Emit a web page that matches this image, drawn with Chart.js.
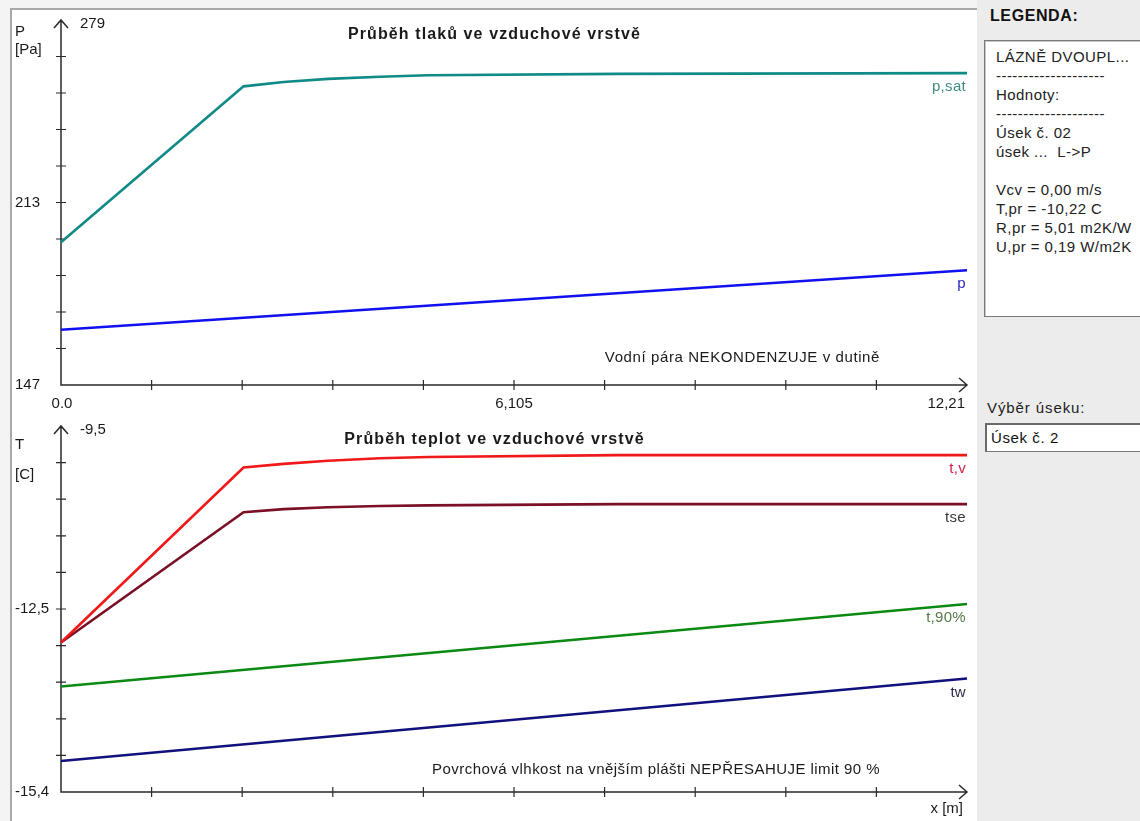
<!DOCTYPE html>
<html lang="cs">
<head>
<meta charset="utf-8">
<title>Průběh tlaků a teplot ve vzduchové vrstvě</title>
<script src="https://cdn.jsdelivr.net/npm/chart.js@4.4.1/dist/chart.umd.min.js"></script>
<style>
    html, body {
        margin: 0;
        padding: 0;
        width: 1140px;
        height: 821px;
        overflow: hidden;
        background: #f4f4f4;
        font-family: 'Liberation Sans', Arial, sans-serif;
    }
    .plot-area {
        position: absolute;
        left: 10px;
        top: 8px;
        width: 965px;
        height: 813px;
        background: #fff;
        border-left: 2px solid #a8a8a8;
        border-top: 2px solid #a8a8a8;
    }
    .side {
        position: absolute;
        left: 977px;
        top: 0;
        width: 163px;
        height: 821px;
        background: #ececec;
    }
    canvas { position: absolute; left: 0; }
    #pressure { top: 0; }
    #temperature { top: 400px; }
    .side h4 {
        position: absolute;
        left: 13px;
        top: 7px;
        margin: 0;
        font-size: 16px;
        letter-spacing: 0.6px;
        font-weight: bold;
        color: #111;
    }
    .legend-box {
        position: absolute;
        left: 7px;
        top: 40px;
        width: 190px;
        height: 277px;
        background: #fff;
        border: 1px solid #7a7a7a;
        box-shadow: inset 1px 1px 0 #c8c8c8;
        font-size: 15px;
        letter-spacing: 0.45px;
        line-height: 19px;
        color: #222;
        padding: 6px 0 0 11px;
        box-sizing: border-box;
        white-space: pre;
    }
    .pick-label {
        position: absolute;
        left: 10px;
        top: 399px;
        font-size: 15px;
        letter-spacing: 0.9px;
        color: #222;
    }
    .pick {
        position: absolute;
        left: 8px;
        top: 423px;
        width: 190px;
        height: 29px;
        background: #fff;
        border: 1px solid #7a7a7a;
        border-top: 2px solid #6a6a6a;
        border-left: 2px solid #6a6a6a;
        box-sizing: border-box;
        font-size: 15px;
        letter-spacing: 0.6px;
        color: #111;
        padding: 4px 0 0 4px;
    }
</style>
</head>
<body>
<div class="plot-area">
    <canvas id="pressure" width="965" height="400"></canvas>
    <canvas id="temperature" width="965" height="413"></canvas>
</div>
<div class="side">
    <h4>LEGENDA:</h4>
    <div class="legend-box">LÁZNĚ DVOUPL...
--------------------
Hodnoty:
--------------------
Úsek č. 02
úsek ...  L->P

Vcv = 0,00 m/s
T,pr = -10,22 C
R,pr = 5,01 m2K/W
U,pr = 0,19 W/m2K</div>
    <div class="pick-label">Výběr úseku:</div>
    <div class="pick">Úsek č. 2</div>
</div>

<script>
// rozsah osy x [m]
const xMax = 12.21;
const xTickLabels = ['0.0', '6,105', '12,21'];

// tlaky [Pa]
const pRange = [147, 279];
const pTickLabels = ['147', '213', '279'];
const satX = [0, 2.46, 3.0, 3.6, 4.3, 4.95, 7.5, 12.21];
const pSat = [198.6, 255.0, 256.6, 257.7, 258.5, 259.0, 259.5, 259.8];
const vapX = [0, 12.21];
const pVap = [167.0, 188.5];

// teploty [C]
const tRange = [-15.4, -9.5];
const tTickLabels = ['-15,4', '-12,5', '-9,5'];
const tempX = [0, 2.46, 3.0, 3.6, 4.3, 4.95, 7.5, 12.21];
const tV = [-12.99, -10.17, -10.11, -10.06, -10.02, -10.00, -9.97, -9.97];
const tSe = [-12.99, -10.89, -10.84, -10.81, -10.79, -10.78, -10.76, -10.76];
const linX = [0, 12.21];
const t90 = [-13.70, -12.37];
const tW = [-14.90, -13.57];

const FONT = "'Liberation Sans', Arial, sans-serif";

function pts(xs, ys) {
    return xs.map((x, i) => ({ x: x, y: ys[i] }));
}

function series(label, xs, ys, color, textColor) {
    return {
        label: label,
        data: pts(xs, ys),
        borderColor: color,
        textColor: textColor,
        borderWidth: 2.6,
        pointRadius: 0,
        tension: 0,
        clip: false
    };
}

// vlastni kresleni os se sipkami, popisky a textem
const axisFrame = {
    id: 'axisFrame',
    beforeDatasetsDraw(chart, args, opts) {
        const ctx = chart.ctx;
        const xs = chart.scales.x, ys = chart.scales.y;
        const left = xs.getPixelForValue(xs.min);
        const right = xs.getPixelForValue(xs.max);
        const top = ys.getPixelForValue(ys.max);
        const bottom = ys.getPixelForValue(ys.min);

        ctx.save();
        ctx.strokeStyle = '#2a2a2a';
        ctx.lineWidth = 1.5;
        ctx.beginPath();
        ctx.moveTo(left, top);
        ctx.lineTo(left, bottom);
        ctx.lineTo(right, bottom);
        // sipka nahoru
        ctx.moveTo(left - 7, top + 8);
        ctx.lineTo(left, top);
        ctx.lineTo(left + 7, top + 8);
        // sipka doprava
        ctx.moveTo(right - 8, bottom - 7);
        ctx.lineTo(right, bottom);
        ctx.lineTo(right - 8, bottom + 7);
        ctx.stroke();

        ctx.lineWidth = 1.2;
        ctx.beginPath();
        for (let i = 1; i < 10; i++) {
            const y = ys.getPixelForValue(ys.min + (ys.max - ys.min) * i / 10);
            ctx.moveTo(left - 5, y);
            ctx.lineTo(left + 5, y);
            const x = xs.getPixelForValue(xs.min + (xs.max - xs.min) * i / 10);
            ctx.moveTo(x, bottom - 5);
            ctx.lineTo(x, bottom + 5);
        }
        ctx.stroke();

        ctx.fillStyle = '#1a1a1a';
        ctx.font = '15px ' + FONT;
        ctx.textBaseline = 'middle';
        ctx.textAlign = 'left';
        const yl = opts.yLabels;
        ctx.fillText(yl[2], left + 19, top + 4);
        ctx.fillText(yl[1], 3, ys.getPixelForValue((ys.min + ys.max) / 2));
        ctx.fillText(yl[0], 3, bottom);
        ctx.fillText(opts.yName, 3, opts.yNameY);
        ctx.fillText(opts.yUnit, 3, opts.yUnitY);

        if (opts.xLabels) {
            const xl = opts.xLabels;
            ctx.textAlign = 'center';
            ctx.fillText(xl[0], left + 1, bottom + 19);
            ctx.fillText(xl[1], xs.getPixelForValue((xs.min + xs.max) / 2), bottom + 19);
            ctx.textAlign = 'right';
            ctx.fillText(xl[2], right - 2, bottom + 19);
        }
        if (opts.xName) {
            ctx.textAlign = 'right';
            ctx.fillText(opts.xName, right - 4, bottom + 17);
        }

        ctx.textAlign = 'right';
        ctx.letterSpacing = opts.noteSpacing;
        ctx.fillText(opts.note, right - 87, bottom - opts.noteGap);

        ctx.font = 'bold 16px ' + FONT;
        ctx.letterSpacing = '1.1px';
        ctx.textAlign = 'center';
        ctx.fillText(opts.title, chart.width / 2, opts.titleY);
        ctx.restore();
    },
    afterDatasetsDraw(chart) {
        const ctx = chart.ctx;
        ctx.save();
        ctx.font = '15px ' + FONT;
        ctx.letterSpacing = '0.3px';
        ctx.textAlign = 'right';
        ctx.textBaseline = 'middle';
        chart.data.datasets.forEach((ds, i) => {
            const meta = chart.getDatasetMeta(i);
            const last = meta.data[meta.data.length - 1];
            ctx.fillStyle = ds.textColor;
            ctx.fillText(ds.label, last.x - 1, last.y + 14);
        });
        ctx.restore();
    }
};

function baseOptions(yRange, padding, frame) {
    return {
        responsive: false,
        animation: false,
        layout: { padding: padding },
        scales: {
            x: { type: 'linear', min: 0, max: xMax, display: false },
            y: { min: yRange[0], max: yRange[1], display: false }
        },
        plugins: {
            legend: { display: false },
            tooltip: { enabled: false },
            axisFrame: frame
        }
    };
}

new Chart(document.getElementById('pressure'), {
    type: 'line',
    data: {
        datasets: [
            series('p,sat', satX, pSat, '#0f8a86', '#3f8c82'),
            series('p', vapX, pVap, '#1010f0', '#2a2ab8')
        ]
    },
    options: baseOptions(pRange, { left: 49, right: 10, top: 10, bottom: 25 }, {
        title: 'Průběh tlaků ve vzduchové vrstvě',
        titleY: 25,
        yName: 'P',
        yNameY: 22,
        yUnit: '[Pa]',
        yUnitY: 40,
        yLabels: pTickLabels,
        xLabels: xTickLabels,
        note: 'Vodní pára NEKONDENZUJE v dutině',
        noteSpacing: '0.6px',
        noteGap: 27
    }),
    plugins: [axisFrame]
});

new Chart(document.getElementById('temperature'), {
    type: 'line',
    data: {
        datasets: [
            series('t,v', tempX, tV, '#f01818', '#d0204a'),
            series('tse', tempX, tSe, '#7a0f25', '#3a3a3a'),
            series('t,90%', linX, t90, '#0a8a12', '#557a48'),
            series('tw', linX, tW, '#10107e', '#2e2e4a')
        ]
    },
    options: baseOptions(tRange, { left: 49, right: 10, top: 16, bottom: 31 }, {
        title: 'Průběh teplot ve vzduchové vrstvě',
        titleY: 30,
        yName: 'T',
        yNameY: 35,
        yUnit: '[C]',
        yUnitY: 65,
        yLabels: tTickLabels,
        xName: 'x [m]',
        note: 'Povrchová vlhkost na vnějším plášti NEPŘESAHUJE limit 90 %',
        noteSpacing: '0.45px',
        noteGap: 22
    }),
    plugins: [axisFrame]
});
</script>
</body>
</html>
